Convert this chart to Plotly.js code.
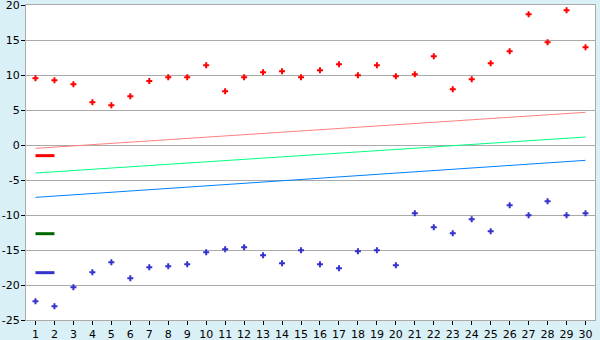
<!DOCTYPE html>
<html><head><meta charset="utf-8">
<script src="https://cdn.plot.ly/plotly-3.0.1.min.js"></script>
<style>body{margin:0;background:#daf0f7}</style>
</head><body>
<div id="chart" style="width:600px;height:340px"></div>
<script>
const xs = [1,2,3,4,5,6,7,8,9,10,11,12,13,14,15,16,17,18,19,20,21,22,23,24,25,26,27,28,29,30];
const redPoints = [9.53,9.24,8.67,6.1,5.67,6.95,9.14,9.67,9.67,11.38,7.67,9.67,10.38,10.52,9.67,10.67,11.52,9.95,11.38,9.81,10.1,12.67,7.95,9.38,11.67,13.38,18.67,14.67,19.24,13.95];
const bluePoints = [-22.33,-23.05,-20.33,-18.19,-16.76,-19.05,-17.48,-17.33,-17.05,-15.33,-14.9,-14.62,-15.76,-16.9,-15.05,-17.05,-17.62,-15.19,-15.05,-17.19,-9.76,-11.76,-12.62,-10.62,-12.33,-8.62,-10.05,-8.05,-10.05,-9.76];
const lineX = [1, 30];
const redLine = [-0.48, 4.67];
const greenLine = [-4.0, 1.14];
const blueLine = [-7.48, -2.19];
const markX = [1, 2];
const redMark = [-1.52, -1.52];
const greenMark = [-12.67, -12.67];
const blueMark = [-18.24, -18.24];
const yTickVals = [-25, -20, -15, -10, -5, 0, 5, 10, 15, 20];
const yTickText = ['-25', '-20', '-15', '-10', '-5', '0', '5', '10', '15', '20'];

const traces = [
  {x: lineX, y: redLine, mode: 'lines', line: {color: '#ff8080', width: 1}},
  {x: lineX, y: greenLine, mode: 'lines', line: {color: '#00ff80', width: 1}},
  {x: lineX, y: blueLine, mode: 'lines', line: {color: '#0080ff', width: 1}},
  {x: markX, y: redMark, mode: 'lines', line: {color: '#ff0000', width: 3}},
  {x: markX, y: greenMark, mode: 'lines', line: {color: '#006600', width: 3}},
  {x: markX, y: blueMark, mode: 'lines', line: {color: '#3333cc', width: 3}},
  {x: xs, y: redPoints, mode: 'markers', marker: {symbol: 'cross', size: 5, color: '#ff0000'}},
  {x: xs, y: bluePoints, mode: 'markers', marker: {symbol: 'cross', size: 5, color: '#3333cc'}}
];
const layout = {
  width: 600, height: 340,
  margin: {l: 26, r: 5, t: 5, b: 20, pad: 0},
  paper_bgcolor: '#daf0f7', plot_bgcolor: '#ffffff',
  showlegend: false,
  font: {family: 'DejaVu Sans, Verdana, sans-serif', size: 11, color: '#000'},
  xaxis: {range: [0.5, 30.5], tickmode: 'linear', tick0: 1, dtick: 1, showgrid: false, zeroline: false,
          showline: true, mirror: true, linecolor: '#aaaaaa', linewidth: 1, ticklabeloverflow: 'allow',
          ticks: 'outside', ticklen: 4, tickcolor: '#000', fixedrange: true},
  yaxis: {range: [-25, 20], tickmode: 'array', tickvals: yTickVals, ticktext: yTickText,
          showgrid: true, gridcolor: '#aaaaaa', zeroline: false, ticklabeloverflow: 'allow',
          showline: true, mirror: true, linecolor: '#aaaaaa', linewidth: 1,
          ticks: 'outside', ticklen: 4, tickcolor: '#000', ticklabelstandoff: -1, fixedrange: true}
};
Plotly.newPlot('chart', traces, layout, {displayModeBar: false, staticPlot: true});
</script>
</body></html>
